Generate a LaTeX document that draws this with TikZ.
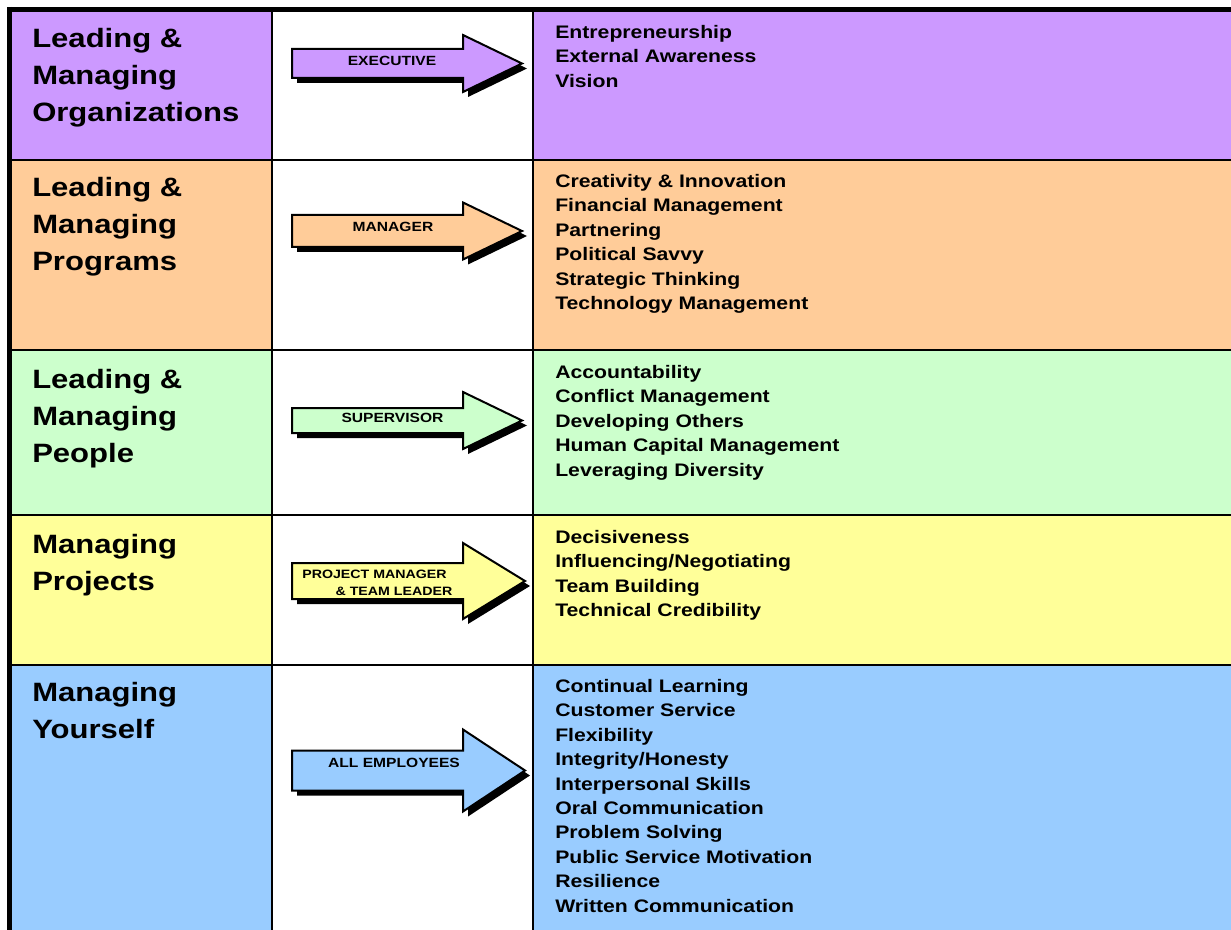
\documentclass[tikz,border=0pt]{standalone}
\usepackage{xcolor}
\usepackage{fontspec}
\usepackage{tikz}

\newfontfamily\cellfont[FakeStretch=1.17]{Liberation Sans}

\definecolor{orgfill}{HTML}{CC99FF}
\definecolor{prgfill}{HTML}{FFCC99}
\definecolor{pplfill}{HTML}{CCFFCC}
\definecolor{prjfill}{HTML}{FFFF99}
\definecolor{selffill}{HTML}{99CCFF}

% #1 centre y, #2 half shaft, #3 half head, #4 tip x, #5 fill
\newcommand{\rolearrow}[5]{%
  \fill[black, shift={(5,#1+5)}] (292,-#2) -- (463,-#2) -- (463,-#3) -- (#4,0) -- (463,#3) -- (463,#2) -- (292,#2) -- cycle;
  \draw[line width=1.5pt, fill=#5, shift={(0,#1)}] (292,-#2) -- (463,-#2) -- (463,-#3) -- (#4,0) -- (463,#3) -- (463,#2) -- (292,#2) -- cycle;
}

\begin{document}
\begin{tikzpicture}[x=0.75pt, y=-0.75pt,
    title/.style={font=\cellfont\bfseries\fontsize{19.9}{27.75}\selectfont, align=left, anchor=north west, inner sep=0pt},
    items/.style={font=\cellfont\bfseries\fontsize{13.6}{18.3}\selectfont, align=left, anchor=north west, inner sep=0pt},
    role/.style={font=\cellfont\bfseries\fontsize{10}{12}\selectfont, inner sep=0pt},
    smallrole/.style={font=\cellfont\bfseries\fontsize{9.1}{11}\selectfont, inner sep=0pt}]
        \useasboundingbox (0,0) rectangle (1231,930);
        \fill[white] (0,0) rectangle (1231,930);
        \foreach \rtop/\rbot/\rcol in {12/160/orgfill, 160/350/prgfill, 350/515/pplfill, 515/665/prjfill, 665/930/selffill} {
            \fill[\rcol] (12,\rtop) rectangle (272,\rbot);
            \fill[\rcol] (533,\rtop) rectangle (1231,\rbot);
        }
        \foreach \ry in {160,350,515,665}
            \draw[line width=1.5pt] (12,\ry) -- (1231,\ry);
        \foreach \rx in {272,533}
            \draw[line width=1.5pt] (\rx,12) -- (\rx,930);
        \draw[line width=3.75pt] (7,9.5) -- (1231,9.5);
        \draw[line width=3.75pt] (9.5,7) -- (9.5,930);

        \node[title] (t1) at (32,28) {Leading \&\\Managing\\Organizations};
        \node[title] (t2) at (32,177) {Leading \&\\Managing\\Programs};
        \node[title] (t3) at (32,369) {Leading \&\\Managing\\People};
        \node[title] (t4) at (32,534) {Managing\\Projects};
        \node[title] (t5) at (32,682) {Managing\\Yourself};

        \rolearrow{63.5}{14.5}{28.5}{522}{orgfill}
        \rolearrow{231}{16}{28.5}{522}{prgfill}
        \rolearrow{420.5}{12.5}{28.5}{522}{pplfill}
        \rolearrow{581}{18}{38}{525}{prjfill}
        \rolearrow{770.5}{20}{41}{525}{selffill}
        \node[role] (r1) at (392,61) {EXECUTIVE};
        \node[role] (r2) at (393,227) {MANAGER};
        \node[role] (r3) at (392.5,418) {SUPERVISOR};
        \node[smallrole] (r4a) at (374.5,574) {PROJECT MANAGER};
        \node[smallrole] (r4b) at (394,591) {\& TEAM LEADER};
        \node[role] (r5) at (394,763) {ALL EMPLOYEES};

        \node[items] (c1) at (555,25) {Entrepreneurship\\External Awareness\\Vision};
        \node[items] (c2) at (555,174) {Creativity \& Innovation\\Financial Management\\Partnering\\Political Savvy\\Strategic Thinking\\Technology Management};
        \node[items] (c3) at (555,365) {Accountability\\Conflict Management\\Developing Others\\Human Capital Management\\Leveraging Diversity};
        \node[items] (c4) at (555,530) {Decisiveness\\Influencing/Negotiating\\Team Building\\Technical Credibility};
        \node[items] (c5) at (555,679) {Continual Learning\\Customer Service\\Flexibility\\Integrity/Honesty\\Interpersonal Skills\\Oral Communication\\Problem Solving\\Public Service Motivation\\Resilience\\Written Communication};
    \end{tikzpicture}
\end{document}
